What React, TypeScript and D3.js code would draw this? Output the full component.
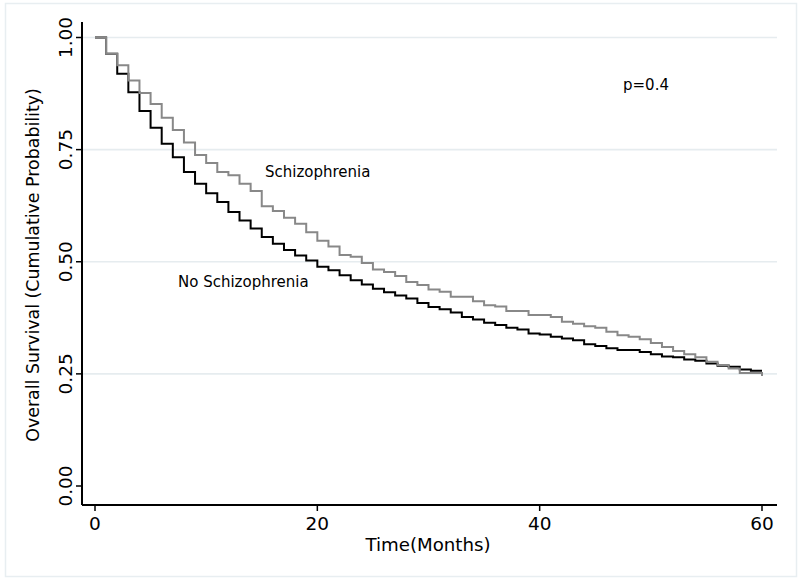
import React from "react";
import * as d3 from "d3";

const months = [
  0, 1, 2, 3, 4, 5, 6, 7, 8, 9, 10, 11, 12, 13, 14, 15, 16, 17, 18, 19, 20,
  21, 22, 23, 24, 25, 26, 27, 28, 29, 30, 31, 32, 33, 34, 35, 36, 37, 38, 39, 40,
  41, 42, 43, 44, 45, 46, 47, 48, 49, 50, 51, 52, 53, 54, 55, 56, 57, 58, 59, 60,
];

const schizophrenia = [
  1.0, 0.964, 0.938, 0.904, 0.876, 0.852, 0.821, 0.794, 0.766, 0.738, 0.72,
  0.7, 0.693, 0.674, 0.658, 0.624, 0.613, 0.598, 0.585, 0.566, 0.547,
  0.534, 0.515, 0.511, 0.497, 0.483, 0.477, 0.468, 0.455, 0.448, 0.438,
  0.433, 0.422, 0.422, 0.412, 0.403, 0.4, 0.39, 0.39, 0.381, 0.381,
  0.377, 0.366, 0.362, 0.356, 0.353, 0.344, 0.336, 0.333, 0.327, 0.319,
  0.31, 0.301, 0.294, 0.287, 0.277, 0.27, 0.262, 0.252, 0.252, 0.245,
];

const noSchizophrenia = [
  1.0, 0.964, 0.919, 0.878, 0.836, 0.799, 0.763, 0.733, 0.7, 0.674, 0.653,
  0.633, 0.611, 0.592, 0.574, 0.555, 0.54, 0.526, 0.514, 0.503, 0.489,
  0.481, 0.47, 0.459, 0.449, 0.44, 0.432, 0.425, 0.418, 0.408, 0.399,
  0.394, 0.387, 0.377, 0.371, 0.364, 0.359, 0.353, 0.349, 0.34, 0.338,
  0.333, 0.329, 0.325, 0.316, 0.312, 0.307, 0.303, 0.303, 0.299, 0.294,
  0.289, 0.287, 0.282, 0.279, 0.273, 0.268, 0.266, 0.26, 0.257, 0.257,
];

const xTicks = [0, 20, 40, 60];
const yTicks = [0, 0.25, 0.5, 0.75, 1.0];
const gridTicks = [0.25, 0.5, 0.75, 1.0];

const W = 800;
const H = 583;
const FONT = "'DejaVu Sans', Verdana, sans-serif";

export default function App() {
  const x = d3.scaleLinear().domain([0, 60]).range([95, 762]);
  const y = d3.scaleLinear().domain([0, 1]).range([486, 37.5]);
  const axisLeft = 82;
  const axisBottom = 505;
  const plotRight = 777;
  const plotTop = 22;

  const line = d3
    .line<number>()
    .x((_, i) => x(months[i]))
    .y((d) => y(d))
    .curve(d3.curveStepAfter);

  return (
    <svg
      width={W}
      height={H}
      style={{ position: "absolute", left: 0, top: 0, background: "#fff" }}
      fontFamily={FONT}
    >
      <rect x={5.5} y={3.5} width={791} height={573} fill="#fff" stroke="#e8eef1" strokeWidth={1.5} />
      {gridTicks.map((t) => (
        <line
          key={"g" + t}
          x1={axisLeft}
          x2={plotRight}
          y1={y(t)}
          y2={y(t)}
          stroke="#e6ecef"
          strokeWidth={1.6}
        />
      ))}
      <path d={line(noSchizophrenia) || ""} fill="none" stroke="#000" strokeWidth={2} />
      <path d={line(schizophrenia) || ""} fill="none" stroke="#888" strokeWidth={2} />

      {/* Y axis */}
      <line x1={axisLeft} x2={axisLeft} y1={plotTop} y2={axisBottom} stroke="#000" strokeWidth={2} />
      {yTicks.map((t) => (
        <g key={"y" + t}>
          <line x1={axisLeft - 6} x2={axisLeft} y1={y(t)} y2={y(t)} stroke="#000" strokeWidth={1.5} />
          <text
            transform={`translate(${72},${y(t)}) rotate(-90)`}
            textAnchor="middle"
            fontSize={18.5}
            fill="#000"
          >
            {t.toFixed(2)}
          </text>
        </g>
      ))}
      <text
        transform={`translate(${39},${265}) rotate(-90)`}
        textAnchor="middle"
        fontSize={17.4}
        fill="#000"
      >
        Overall Survival (Cumulative Probability)
      </text>

      {/* X axis */}
      <line x1={axisLeft} x2={plotRight} y1={axisBottom} y2={axisBottom} stroke="#000" strokeWidth={2} />
      {xTicks.map((t) => (
        <g key={"x" + t}>
          <line x1={x(t)} x2={x(t)} y1={axisBottom} y2={axisBottom + 6} stroke="#000" strokeWidth={1.5} />
          <text x={x(t)} y={530} textAnchor="middle" fontSize={18.5} fill="#000">
            {t}
          </text>
        </g>
      ))}
      <text x={428} y={551} textAnchor="middle" fontSize={18.2} fill="#000">
        Time(Months)
      </text>

      {/* Annotations */}
      <text x={265} y={177} fontSize={15} fill="#000">
        Schizophrenia
      </text>
      <text x={178} y={287} fontSize={15} fill="#000">
        No Schizophrenia
      </text>
      <text x={623} y={90} fontSize={15} fill="#000">
        p=0.4
      </text>
    </svg>
  );
}
